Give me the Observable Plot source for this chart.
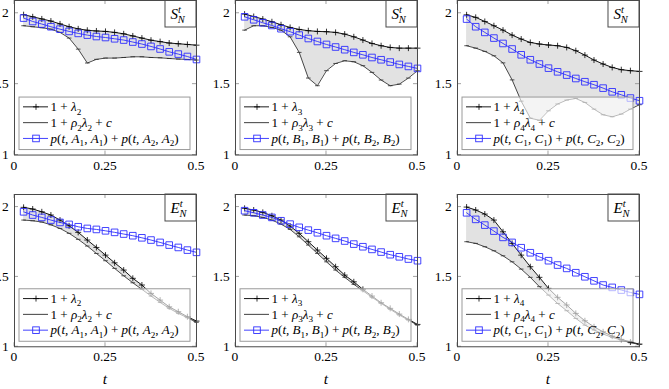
<!DOCTYPE html>
<html><head><meta charset="utf-8">
<script src="https://cdn.jsdelivr.net/npm/d3@7"></script>
<script src="https://cdn.jsdelivr.net/npm/@observablehq/plot@0.6"></script>
<style>
html,body{margin:0;padding:0;background:#fff;}
#wrap{position:relative;width:669px;height:389px;overflow:hidden;background:#fff;}
#wrap svg{position:absolute;background:none;max-width:none;}
</style></head><body><div id="wrap"></div>
<script>
const t = [0.025,0.05,0.075,0.1,0.125,0.15,0.175,0.2,0.225,0.25,0.275,0.3,0.325,0.35,0.375,0.4,0.425,0.45,0.475,0.5];
const xTicks = [0, 0.25, 0.5];
const xTickLabels = ["0", "0.25", "0.5"];
const yTicks = [1, 1.5, 2];
const yTickLabels = ["1", "1.5", "2"];

// S^t_N panels
const S_lam2 = [1.99,1.975,1.96,1.945,1.925,1.905,1.89,1.88,1.875,1.872,1.865,1.855,1.84,1.825,1.81,1.80,1.79,1.785,1.78,1.775];
const S_rho2 = [1.912,1.905,1.898,1.888,1.865,1.825,1.747,1.649,1.675,1.684,1.684,1.688,1.693,1.693,1.688,1.686,1.681,1.677,1.674,1.67];
const S_pA   = [1.966,1.942,1.924,1.905,1.888,1.872,1.858,1.846,1.836,1.829,1.82,1.811,1.797,1.783,1.766,1.748,1.728,1.712,1.695,1.674];

const S_lam3 = [1.994,1.977,1.959,1.94,1.919,1.90,1.886,1.877,1.872,1.87,1.865,1.853,1.834,1.811,1.787,1.771,1.759,1.754,1.754,1.754];
const S_rho3 = [1.881,1.912,1.912,1.90,1.881,1.834,1.724,1.543,1.489,1.595,1.646,1.665,1.658,1.63,1.583,1.529,1.489,1.50,1.543,1.595];
const S_pB   = [1.975,1.954,1.933,1.914,1.891,1.87,1.846,1.822,1.801,1.78,1.762,1.743,1.724,1.707,1.688,1.672,1.656,1.639,1.625,1.611];

const S_lam4 = [1.989,1.971,1.942,1.912,1.881,1.846,1.818,1.794,1.783,1.776,1.771,1.759,1.736,1.705,1.67,1.642,1.618,1.602,1.595,1.59];
const S_rho4 = [1.771,1.754,1.731,1.70,1.65,1.53,1.38,1.26,1.245,1.312,1.36,1.388,1.399,1.371,1.324,1.284,1.27,1.289,1.324,1.355];
const S_pC   = [1.959,1.905,1.865,1.825,1.787,1.748,1.707,1.672,1.642,1.613,1.587,1.564,1.54,1.517,1.496,1.472,1.446,1.425,1.402,1.383];

// E^t_N panels
const E_lam2 = [1.998,1.986,1.966,1.943,1.907,1.866,1.819,1.764,1.711,1.656,1.601,1.549,1.49,1.442,1.382,1.334,1.286,1.251,1.215,1.184];
const E_rho2 = [1.907,1.902,1.893,1.873,1.847,1.812,1.769,1.721,1.668,1.616,1.561,1.508,1.458,1.411,1.363,1.318,1.275,1.239,1.208,1.175];
const E_pA   = [1.966,1.943,1.926,1.907,1.89,1.876,1.859,1.847,1.84,1.83,1.819,1.807,1.795,1.78,1.764,1.747,1.728,1.711,1.692,1.676];

const E_lam3 = [1.991,1.979,1.962,1.938,1.907,1.864,1.812,1.752,1.692,1.633,1.573,1.513,1.465,1.411,1.363,1.315,1.275,1.234,1.196,1.16];
const E_rho3 = [1.943,1.938,1.926,1.907,1.878,1.84,1.787,1.728,1.668,1.608,1.549,1.497,1.447,1.401,1.354,1.311,1.268,1.227,1.191,1.155];
const E_pB   = [1.974,1.959,1.943,1.926,1.902,1.878,1.855,1.835,1.816,1.795,1.776,1.757,1.735,1.716,1.697,1.678,1.659,1.644,1.628,1.616];

const E_lam4 = [2.0,1.979,1.95,1.907,1.823,1.74,1.656,1.573,1.497,1.418,1.354,1.299,1.239,1.186,1.143,1.107,1.076,1.053,1.034,1.019];
const E_rho4 = [1.752,1.74,1.716,1.687,1.651,1.608,1.556,1.497,1.43,1.37,1.31,1.258,1.203,1.155,1.12,1.091,1.067,1.048,1.029,1.017];
const E_pC   = [1.959,1.912,1.871,1.828,1.783,1.747,1.709,1.673,1.644,1.616,1.585,1.561,1.53,1.501,1.472,1.442,1.425,1.406,1.389,1.375];

const legendA = ["1 + λ_2", "1 + ρ_2λ_2 + c", "p(t, A_1, A_1) + p(t, A_2, A_2)"];
const legendB = ["1 + λ_3", "1 + ρ_3λ_3 + c", "p(t, B_1, B_1) + p(t, B_2, B_2)"];
const legendC = ["1 + λ_4", "1 + ρ_4λ_4 + c", "p(t, C_1, C_1) + p(t, C_2, C_2)"];
const cornerLabels = ["S^t_N", "E^t_N"];
const xAxisLabel = "t";

const panels = [
  {row:0, col:0, up:S_lam2, low:S_rho2, blue:S_pA, legend:legendA},
  {row:0, col:1, up:S_lam3, low:S_rho3, blue:S_pB, legend:legendB},
  {row:0, col:2, up:S_lam4, low:S_rho4, blue:S_pC, legend:legendC},
  {row:1, col:0, up:E_lam2, low:E_rho2, blue:E_pA, legend:legendA},
  {row:1, col:1, up:E_lam3, low:E_rho3, blue:E_pB, legend:legendB},
  {row:1, col:2, up:E_lam4, low:E_rho4, blue:E_pC, legend:legendC},
];

const SERIF = "'Liberation Serif', 'DejaVu Serif', serif";
const BLUE = "#2f2fff";
const FILL = "#e2e2e2";

// layout
const colLeft = [14, 235, 457];
const frameW = 182;
const rowBottom = [154.3, 346.7];
const rowScale = [141.8, 139.7];
const yMax = 2.09;
const mL = 40, mR = 12, mT = 10, mB = 45;
const LEG_FS = 13.1;

const plusSym = {draw(ctx){const r=3; ctx.moveTo(-r,0); ctx.lineTo(r,0); ctx.moveTo(0,-r); ctx.lineTo(0,r);}};
const dashSym = {draw(ctx){const r=2.3; ctx.moveTo(-r,0); ctx.lineTo(r,0);}};
const squareSym = {draw(ctx){const r=3.3; ctx.rect(-r,-r,2*r,2*r);}};

function styleText(sel, fs, anchor) {
  return sel.style("font-family", SERIF).style("font-size", fs + "px").style("text-anchor", anchor)
    .style("fill", "#000").style("stroke", "none");
}

function mathText(sel, str, fs) {
  sel.attr("xml:space","preserve").style("white-space","pre");
  const isLetter = c => /[A-Za-z\u03b1-\u03c9]/.test(c);
  const runs = [];
  let i = 0;
  while (i < str.length) {
    const c = str[i];
    if (c === "_" || c === "^") {
      const s = str[i+1];
      runs.push({text:s, italic:isLetter(s), script:c});
      i += 2; continue;
    }
    const it = isLetter(c);
    const last = runs[runs.length-1];
    if (last && !last.script && last.italic === it) last.text += c;
    else runs.push({text:c, italic:it});
    i++;
  }
  let cur = 0;
  runs.forEach((r, k) => {
    const ts = sel.append("tspan").text(r.text);
    ts.style("font-style", r.italic ? "italic" : "normal");
    let target = 0, size = fs;
    if (r.script === "_") { target = 0.28*fs; size = 0.7*fs; }
    if (r.script === "^") { target = -0.42*fs; size = 0.7*fs; }
    ts.style("font-size", size + "px");
    if (target !== cur) { ts.attr("dy", target - cur); cur = target; }
    if (r.script === "_" && k > 0 && runs[k-1].script === "^") ts.attr("dx", -0.7*fs*0.3*runs[k-1].text.length);
  });
}

function decor(p) {
  return (index, scales, values, dims) => {
    const x = scales.x, y = scales.y;
    const L = dims.marginLeft, R = dims.width - dims.marginRight, T = dims.marginTop, B = dims.height - dims.marginBottom;
    const g = d3.create("svg:g");
    const tk = g.append("g").attr("stroke", "#8a8a8a").attr("stroke-width", 0.8);
    for (const v of xTicks) {
      const px = x(v);
      tk.append("line").attr("x1", px).attr("x2", px).attr("y1", B).attr("y2", B-4);
      tk.append("line").attr("x1", px).attr("x2", px).attr("y1", T).attr("y2", T+4);
    }
    for (const v of yTicks) {
      const py = y(v);
      tk.append("line").attr("x1", L).attr("x2", L+4).attr("y1", py).attr("y2", py);
      tk.append("line").attr("x1", R).attr("x2", R-4).attr("y1", py).attr("y2", py);
    }
    // tick labels
    xTicks.forEach((v, k) => {
      styleText(g.append("text").attr("x", x(v)).attr("y", B + 15), 13.5, "middle").text(xTickLabels[k]);
    });
    yTicks.forEach((v, k) => {
      styleText(g.append("text").attr("x", L - 5.3).attr("y", y(v) + 4.6), 13.5, "end").text(yTickLabels[k]);
    });
    // legend
    const lh = 52.5, lx = L + 5, lw = R - L - 11, ly = B - 5 - lh;
    g.append("rect").attr("x", lx).attr("y", ly).attr("width", lw).attr("height", lh)
      .attr("fill", "white").attr("fill-opacity", 0.62).attr("stroke", "#9a9a9a").attr("stroke-width", 1);
    const specs = [
      {color:"#000", mark:"plus"},
      {color:"#2a2a2a", mark:"none"},
      {color:BLUE, mark:"square"}
    ];
    specs.forEach((s, k) => {
      const ry = ly + 9.8 + k*15.8;
      g.append("line").attr("x1", lx+4).attr("x2", lx+29).attr("y1", ry).attr("y2", ry)
        .attr("stroke", s.color).attr("stroke-width", 0.9);
      const cx = lx + 17;
      if (s.mark === "plus") g.append("path").attr("d", `M${cx-3},${ry}H${cx+3}M${cx},${ry-3}V${ry+3}`).attr("stroke", s.color).attr("stroke-width", 0.8).attr("fill", "none");
      if (s.mark === "square") g.append("rect").attr("x", cx-3.3).attr("y", ry-3.3).attr("width", 6.6).attr("height", 6.6).attr("stroke", s.color).attr("stroke-width", 0.9).attr("fill", "none");
      const tx = styleText(g.append("text").attr("x", lx+31.5).attr("y", ry+4.2), LEG_FS, "start");
      mathText(tx, p.legend[k], LEG_FS);
    });
    // corner label box
    g.append("rect").attr("x", R-31).attr("y", T).attr("width", 31).attr("height", 27)
      .attr("fill", "white").attr("stroke", "#4a4a4a").attr("stroke-width", 1);
    const ct = styleText(g.append("text").attr("x", R-25.5).attr("y", T+19), 15, "start");
    mathText(ct, cornerLabels[p.row], 15);
    if (p.row === 1) {
      styleText(g.append("text").attr("x", x(0.25)).attr("y", B+38), 15.5, "middle")
        .style("font-style", "italic").text(xAxisLabel);
    }
    return g.node();
  };
}

const wrap = document.getElementById("wrap");
for (const p of panels) {
  const data = t.map((tv, i) => ({t: tv, up: p.up[i], low: p.low[i], blue: p.blue[i]}));
  const frameH = (yMax - 1) * rowScale[p.row];
  const width = mL + frameW + mR;
  const height = mT + frameH + mB;
  const chart = Plot.plot({
    width, height,
    marginLeft: mL, marginRight: mR, marginTop: mT, marginBottom: mB,
    style: {background: "none", overflow: "visible"},
    x: {domain: [0, 0.5], axis: null},
    y: {domain: [1, yMax], axis: null},
    marks: [
      Plot.areaY(data, {x: "t", y1: "low", y2: "up", fill: FILL}),
      Plot.line(data, {x: "t", y: "up", stroke: "#000", strokeWidth: 0.9}),
      Plot.dot(data, {x: "t", y: "up", symbol: plusSym, stroke: "#000", strokeWidth: 0.8, fill: "none"}),
      Plot.line(data, {x: "t", y: "low", stroke: "#2a2a2a", strokeWidth: 0.85}),
      Plot.dot(data, {x: "t", y: "low", symbol: dashSym, stroke: "#2a2a2a", strokeWidth: 0.8, fill: "none"}),
      Plot.line(data, {x: "t", y: "blue", stroke: BLUE, strokeWidth: 0.9}),
      Plot.dot(data, {x: "t", y: "blue", symbol: squareSym, stroke: BLUE, strokeWidth: 0.9, fill: "none"}),
      decor(p),
      Plot.frame({stroke: "#4a4a4a", strokeWidth: 1})
    ]
  });
  chart.style.left = (colLeft[p.col] - mL) + "px";
  chart.style.top = (rowBottom[p.row] - frameH - mT) + "px";
  chart.style.overflow = "visible";
  wrap.appendChild(chart);
}
</script>
</body></html>
